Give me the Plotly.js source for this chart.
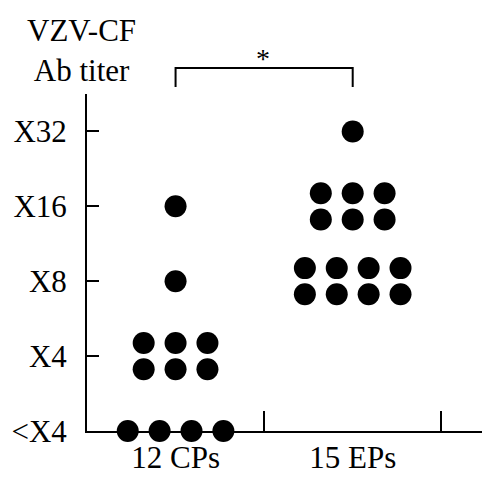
<!DOCTYPE html>
<html>
<head>
<meta charset="utf-8">
<script src="https://cdn.plot.ly/plotly-3.0.1.min.js"></script>
<style>
  html, body { margin: 0; padding: 0; background: #fff; }
  #chart { width: 500px; height: 485px; }
</style>
</head>
<body>
<div id="chart"></div>
<script>
// groups on the x axis and titer levels on the y axis
var groups = ['12 CPs', '15 EPs'];
var titerLabels = ['<X4', 'X4', 'X8', 'X16', 'X32'];

// number of patients at each titer level (same order as titerLabels)
var cpCounts = [4, 6, 1, 1, 0];
var epCounts = [0, 0, 8, 6, 1];

var FONT = 'Liberation Serif, Times New Roman, serif';

// lay the dots of one group out in rows around its category centre
function dotPositions(counts, centre) {
  var xs = [], ys = [];
  var dx = 0.18, dy = 0.175;
  counts.forEach(function (n, level) {
    if (!n) return;
    var rows = n > 4 ? 2 : 1;
    var perRow = Math.ceil(n / rows);
    var left = n;
    for (var r = 0; r < rows; r++) {
      var k = Math.min(perRow, left);
      left -= k;
      var yOff = rows === 1 ? 0 : (r === 0 ? dy : -dy);
      for (var i = 0; i < k; i++) {
        xs.push(centre + (i - (k - 1) / 2) * dx);
        ys.push(level + yOff);
      }
    }
  });
  return {x: xs, y: ys};
}

var cp = dotPositions(cpCounts, 0.5);
var ep = dotPositions(epCounts, 1.5);

var dotStyle = {size: 22, color: '#000', line: {width: 0}};

var data = [
  {x: cp.x, y: cp.y, name: groups[0], type: 'scatter', mode: 'markers',
   marker: dotStyle, cliponaxis: false, hoverinfo: 'skip'},
  {x: ep.x, y: ep.y, name: groups[1], type: 'scatter', mode: 'markers',
   marker: dotStyle, cliponaxis: false, hoverinfo: 'skip'}
];

var layout = {
  width: 500,
  height: 485,
  margin: {l: 87, r: 18, t: 94, b: 54},
  paper_bgcolor: '#fff',
  plot_bgcolor: '#fff',
  showlegend: false,
  font: {family: FONT, size: 31, color: '#000'},
  xaxis: {
    range: [0, 2.23],
    showline: true, linecolor: '#000', linewidth: 2,
    showgrid: false, zeroline: false,
    tickmode: 'array', tickvals: [0.5, 1.5], ticktext: groups,
    ticks: '',
    ticklabelstandoff: -2,
    minor: {tickmode: 'array', tickvals: [1, 2], ticks: 'inside',
            ticklen: 20, tickwidth: 2, tickcolor: '#000', showgrid: false},
    fixedrange: true
  },
  yaxis: {
    range: [0, 4.5],
    showline: true, linecolor: '#000', linewidth: 2,
    showgrid: false, zeroline: false,
    tickmode: 'array', tickvals: [0, 1, 2, 3, 4], ticktext: titerLabels,
    ticks: 'inside', ticklen: 12, tickwidth: 2, tickcolor: '#000',
    ticklabelstandoff: 12,
    fixedrange: true
  },
  shapes: [
    // significance bracket between the two groups
    {type: 'path', xref: 'x', yref: 'paper',
     path: 'M 0.5,1.021 L 0.5,1.077 L 1.5,1.077 L 1.5,1.021',
     line: {color: '#000', width: 2}}
  ],
  annotations: [
    {text: 'VZV-CF<br>Ab titer', xref: 'paper', yref: 'paper',
     x: -0.013, y: 1.13, xanchor: 'center', yanchor: 'middle',
     showarrow: false, font: {family: FONT, size: 31, color: '#000'}},
    {text: '*', xref: 'x', yref: 'paper', x: 0.995, y: 1.105,
     xanchor: 'center', yanchor: 'middle', showarrow: false,
     font: {family: FONT, size: 28, color: '#000'}}
  ]
};

Plotly.newPlot('chart', data, layout, {displayModeBar: false, staticPlot: true});
</script>
</body>
</html>
